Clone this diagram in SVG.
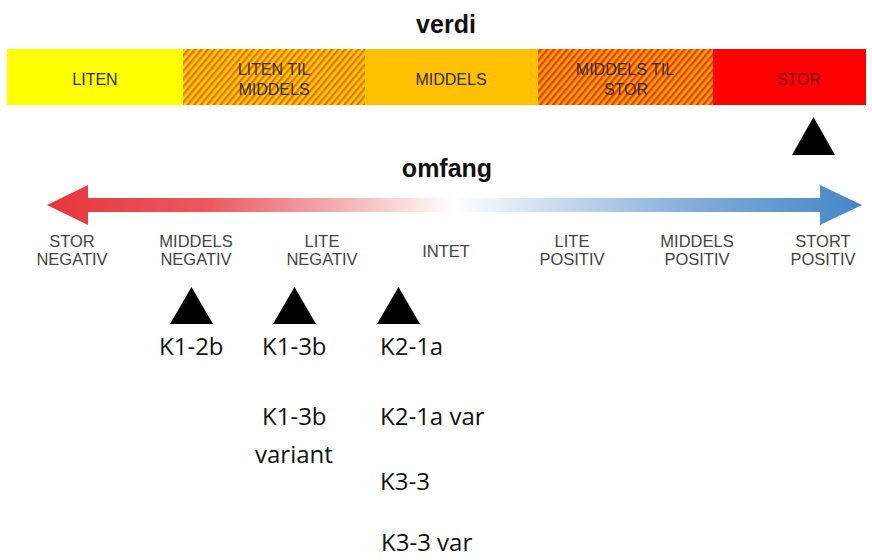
<svg xmlns="http://www.w3.org/2000/svg" width="872" height="560" viewBox="0 0 872 560">
<style>
.bar{font-family:"Liberation Sans",Arial,sans-serif;font-size:16px;fill:#2e2e2e;text-anchor:middle}
.title{font-family:"Liberation Sans",Arial,sans-serif;font-size:25px;font-weight:bold;fill:#111;text-anchor:middle}
.scale{font-family:"Liberation Sans",Arial,sans-serif;font-size:16.5px;fill:#444;text-anchor:middle}
.lbl{font-family:"Open Sans","Noto Sans",sans-serif;font-size:24px;fill:#111}
.tri{fill:#000}
</style>
<defs>
<pattern id="hatch1" patternUnits="userSpaceOnUse" width="5" height="5" patternTransform="rotate(40)">
<rect width="5" height="5" fill="#FFD600"/>
<rect width="2.4" height="5" fill="#F06A00"/>
</pattern>
<pattern id="hatch2" patternUnits="userSpaceOnUse" width="5" height="5" patternTransform="rotate(40)">
<rect width="5" height="5" fill="#FFA800"/>
<rect width="2.4" height="5" fill="#E83A0A"/>
</pattern>
<linearGradient id="arrowGrad" gradientUnits="userSpaceOnUse" x1="47" y1="0" x2="862" y2="0">
<stop offset="0" stop-color="#E6353B"/>
<stop offset="0.2" stop-color="#EA5A60"/>
<stop offset="0.4" stop-color="#F6C6C8"/>
<stop offset="0.5" stop-color="#FFFFFF"/>
<stop offset="0.6" stop-color="#D3E2F2"/>
<stop offset="0.8" stop-color="#80ABD9"/>
<stop offset="1" stop-color="#4585C6"/>
</linearGradient>
</defs>
<rect width="872" height="560" fill="#fff"/>

<text class="title" x="446" y="33">verdi</text>

<g id="verdi-liten">
<rect x="7" y="49" width="176" height="56" fill="#FFFF00"/>
<text class="bar" x="95" y="85">LITEN</text>
</g>
<g id="verdi-liten-til-middels">
<rect x="183" y="49" width="182" height="56" fill="url(#hatch1)"/>
<text class="bar" x="274" y="75">LITEN TIL</text>
<text class="bar" x="274" y="95">MIDDELS</text>
</g>
<g id="verdi-middels">
<rect x="365" y="49" width="173" height="56" fill="#FFC000"/>
<text class="bar" x="451" y="85">MIDDELS</text>
</g>
<g id="verdi-middels-til-stor">
<rect x="538" y="49" width="175" height="56" fill="url(#hatch2)"/>
<text class="bar" x="625" y="75">MIDDELS TIL</text>
<text class="bar" x="626" y="95">STOR</text>
</g>
<g id="verdi-stor">
<rect x="713" y="49" width="153" height="56" fill="#FF0000"/>
<text class="bar" x="799" y="85" style="fill:#7a0808">STOR</text>
</g>

<g id="marker-stor">
<polygon class="tri" points="813.5,117 835,155 792,155"/>
</g>

<text class="title" x="447" y="177">omfang</text>

<g id="connectors">
<path d="M47,205 L88,185 L88,198 L820,198 L820,185 L862,205 L820,225 L820,212 L88,212 L88,225 Z" fill="url(#arrowGrad)"/>
</g>

<g id="scale-labels">
<text class="scale" x="72" y="247">STOR</text>
<text class="scale" x="72" y="265">NEGATIV</text>
<text class="scale" x="196" y="247">MIDDELS</text>
<text class="scale" x="196" y="265">NEGATIV</text>
<text class="scale" x="322" y="247">LITE</text>
<text class="scale" x="322" y="265">NEGATIV</text>
<text class="scale" x="446" y="257">INTET</text>
<text class="scale" x="572" y="247">LITE</text>
<text class="scale" x="572" y="265">POSITIV</text>
<text class="scale" x="697" y="247">MIDDELS</text>
<text class="scale" x="697" y="265">POSITIV</text>
<text class="scale" x="823" y="247">STORT</text>
<text class="scale" x="823" y="265">POSITIV</text>
</g>

<g id="marker-middels-negativ">
<polygon class="tri" points="191.5,287 213,324 170,324"/>
<text class="lbl" x="159" y="355">K1-2b</text>
</g>
<g id="marker-lite-negativ">
<polygon class="tri" points="294.5,287 316,324 273,324"/>
<text class="lbl" x="262" y="425">K1-3b</text>
<text class="lbl" x="262" y="355">K1-3b</text>
<text class="lbl" x="255" y="463">variant</text>
</g>
<g id="marker-intet">
<polygon class="tri" points="398.5,287 420,324 377,324"/>
<text class="lbl" x="380" y="355">K2-1a</text>
<text class="lbl" x="380" y="425">K2-1a var</text>
<text class="lbl" x="380" y="490">K3-3</text>
<text class="lbl" x="381" y="551">K3-3 var</text>
</g>
</svg>
